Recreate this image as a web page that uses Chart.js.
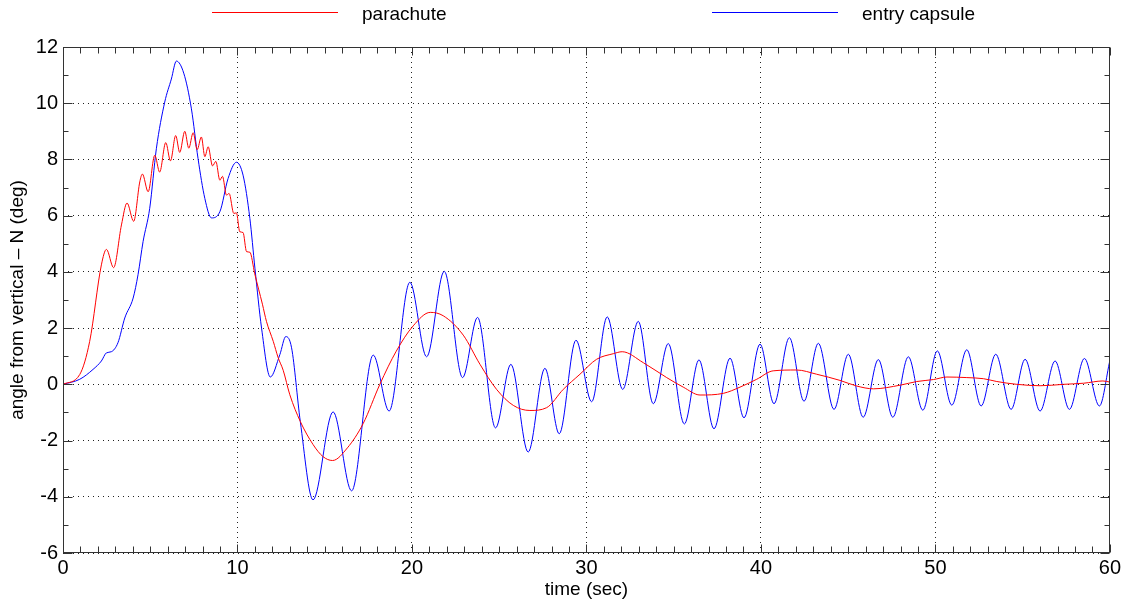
<!DOCTYPE html>
<html>
<head>
<meta charset="utf-8">
<title>angle from vertical</title>
<script src="https://cdn.jsdelivr.net/npm/chart.js@4.4.1/dist/chart.umd.min.js"></script>
<style>
  html, body { margin: 0; padding: 0; background: #fff; }
  #wrap { width: 1124px; height: 602px; }
</style>
</head>
<body>
<div id="wrap"><canvas id="myChart" width="1124" height="602"></canvas></div>
<script>
// parachute angle, sampled at its turning points
const chuteTime = [0, 0.96, 1.53, 2.2, 2.49, 2.9, 3.35, 3.67, 4.05, 4.4, 4.55, 4.88, 5.26, 5.54, 5.89, 6.16,
  6.46, 6.69, 6.98, 7.21, 7.46, 7.69, 7.93, 8.13, 8.32, 8.57, 8.76, 8.99, 9.14, 9.37, 9.52, 9.79, 9.94,
  10.13, 10.32, 10.52, 10.71, 10.99, 11.43, 11.66, 12.05, 12.33, 12.62, 13.0, 13.6, 14.33, 14.9, 15.45,
  16.3, 17.2, 18.16, 19.1, 20.07, 21.05, 21.79, 22.94, 23.9, 24.85, 25.81, 26.76, 27.72, 28.67, 29.63,
  30.58, 31.54, 32.05, 33.26, 34.6, 35.55, 36.51, 37.85, 38.8, 39.76, 40.7, 42.05, 43.19, 44.53, 45.49,
  46.45, 47.98, 48.93, 49.89, 50.66, 51.8, 52.76, 53.52, 54.67, 56.0, 57.35, 58.5, 59.6, 60];
const chuteAngle = [0, 0.35, 1.53, 4.25, 4.8, 4.15, 5.67, 6.45, 5.8, 7.2, 7.48, 6.85, 8.15, 7.55, 8.6, 7.95,
  8.85, 8.25, 9.0, 8.4, 8.95, 8.35, 8.8, 8.1, 8.45, 7.77, 7.93, 7.26, 7.4, 6.73, 6.79, 6.08, 6.1,
  5.43, 5.4, 4.72, 4.7, 3.93, 2.85, 2.24, 1.53, 0.95, 0.5, -0.37, -1.32, -2.14, -2.57, -2.71,
  -2.26, -1.4, 0.0, 1.18, 2.08, 2.56, 2.44, 1.75, 0.71, -0.18, -0.75, -0.93, -0.83, -0.18, 0.36,
  0.89, 1.09, 1.16, 0.77, 0.24, -0.1, -0.38, -0.32, -0.1, 0.18, 0.48, 0.51, 0.36, 0.14, -0.06,
  -0.16, -0.03, 0.1, 0.17, 0.26, 0.24, 0.2, 0.1, 0.0, -0.05, 0.0, 0.04, 0.12, 0.08];

// entry capsule angle
const capsuleTime = [0, 0.96, 1.72, 2.2, 2.49, 2.77, 3.15, 3.54, 4.02, 4.3, 4.59, 4.97, 5.35, 5.83, 6.21,
  6.5, 6.92, 7.36, 7.74, 8.13, 8.51, 8.99, 9.46, 9.94, 10.32, 10.71, 11.0, 11.38, 11.88, 12.43, 12.77,
  13.1, 13.6, 14.33, 15.48, 16.54, 17.78, 18.69, 19.88, 20.84, 21.85, 22.9, 23.76, 24.79, 25.67, 26.66,
  27.62, 28.44, 29.4, 30.3, 31.19, 32.08, 32.97, 33.83, 34.69, 35.61, 36.45, 37.31, 38.23, 39.03, 39.95,
  40.75, 41.63, 42.47, 43.29, 44.19, 45.01, 45.86, 46.73, 47.56, 48.45, 49.28, 50.11, 50.94, 51.8, 52.62,
  53.46, 54.34, 55.14, 56.0, 56.86, 57.68, 58.54, 59.4, 60];
const capsuleAngle = [0, 0.18, 0.53, 0.83, 1.12, 1.16, 1.48, 2.36, 3.07, 3.9, 5.08, 6.26, 8.38, 10.04, 10.86,
  11.5, 11.07, 9.8, 8.03, 6.61, 5.92, 6.14, 7.32, 7.9, 7.44, 5.9, 4.13, 2.0, 0.26, 1.06, 1.7,
  1.3, -1.32, -4.11, -0.98, -3.79, 1.04, -0.95, 3.63, 0.98, 4.02, 0.24, 2.38, -1.55, 0.71, -2.41,
  0.57, -1.76, 1.57, -0.62, 2.4, -0.18, 2.24, -0.69, 1.45, -1.41, 0.87, -1.58, 0.93, -1.19, 1.43,
  -0.69, 1.66, -0.6, 1.46, -0.89, 1.07, -1.17, 0.88, -1.17, 0.98, -0.92, 1.19, -0.74, 1.23, -0.77,
  1.07, -0.89, 0.89, -0.95, 0.83, -0.89, 0.92, -0.77, 0.85];

const seriesNames = ['parachute', 'entry capsule'];
const seriesColors = ['#ff0000', '#0000ff'];
const xTitle = 'time (sec)';
const yTitle = 'angle from vertical \u2013 N (deg)';

const FONT = 'Liberation Sans, Arial, sans-serif';

const toPoints = (xs, ys) => xs.map((x, i) => ({x: x, y: ys[i]}));

// frame, inward ticks on all four sides, and the legend above the plot
const framePlugin = {
  id: 'frame',
  afterDraw(chart) {
    const {ctx, chartArea: a, scales: {x, y}} = chart;
    const L = Math.round(a.left) + 0.5, R = Math.round(a.right) - 0.5;
    const T = Math.round(a.top) + 0.5, B = Math.round(a.bottom) - 0.5;
    ctx.save();
    ctx.strokeStyle = '#333';
    ctx.lineWidth = 1;
    ctx.strokeRect(L, T, R - L, B - T);
    ctx.beginPath();
    for (let v = x.min; v <= x.max; v += 1) {
      const px = Math.round(x.getPixelForValue(v)) + 0.5;
      const len = v % 10 === 0 ? 8 : 6;
      ctx.moveTo(px, B); ctx.lineTo(px, B - len);
      ctx.moveTo(px, T); ctx.lineTo(px, T + len);
    }
    for (let v = y.min; v <= y.max; v += 1) {
      const py = Math.round(y.getPixelForValue(v)) + 0.5;
      const len = v % 2 === 0 ? 9 : 5;
      ctx.moveTo(L, py); ctx.lineTo(L + len, py);
      ctx.moveTo(R, py); ctx.lineTo(R - len, py);
    }
    ctx.stroke();

    // legend
    const legendX = [212, 712];
    ctx.font = '19px ' + FONT;
    ctx.textBaseline = 'middle';
    ctx.fillStyle = '#000';
    seriesNames.forEach((name, i) => {
      ctx.strokeStyle = seriesColors[i];
      ctx.beginPath();
      ctx.moveTo(legendX[i], 12.5);
      ctx.lineTo(legendX[i] + 126, 12.5);
      ctx.stroke();
      ctx.fillText(name, legendX[i] + 150, 15);
    });
    ctx.restore();
  }
};

const data = {
  datasets: [
    {
      label: seriesNames[0],
      data: toPoints(chuteTime, chuteAngle),
      borderColor: seriesColors[0],
      borderWidth: 1,
      pointRadius: 0,
      cubicInterpolationMode: 'monotone'
    },
    {
      label: seriesNames[1],
      data: toPoints(capsuleTime, capsuleAngle),
      borderColor: seriesColors[1],
      borderWidth: 1,
      pointRadius: 0,
      cubicInterpolationMode: 'monotone'
    }
  ]
};

const config = {
  type: 'line',
  data,
  options: {
    responsive: false,
    animation: false,
    devicePixelRatio: 1,
    layout: { padding: { top: 47, right: 13, left: 0, bottom: 0 } },
    plugins: {
      legend: { display: false },
      tooltip: { enabled: false }
    },
    scales: {
      x: {
        type: 'linear',
        min: 0,
        max: 60,
        afterFit: s => { s.height = 49; },
        ticks: { stepSize: 10, color: '#000', padding: 3, font: { family: FONT, size: 20 } },
        grid: { color: '#222', drawTicks: false },
        border: { display: false, dash: [1, 4] },
        title: { display: true, text: xTitle, color: '#000', padding: { top: 0, bottom: 1 }, font: { family: FONT, size: 19 } }
      },
      y: {
        min: -6,
        max: 12,
        afterFit: s => { s.width = 63; },
        ticks: { stepSize: 2, color: '#000', padding: 5, font: { family: FONT, size: 20 } },
        grid: { color: '#222', drawTicks: false },
        border: { display: false, dash: [1, 4] },
        title: { display: true, text: yTitle, color: '#000', padding: { top: 6, bottom: 0 }, font: { family: FONT, size: 19 } }
      }
    }
  },
  plugins: [framePlugin]
};

const myChart = new Chart(document.getElementById('myChart'), config);
</script>
</body>
</html>
